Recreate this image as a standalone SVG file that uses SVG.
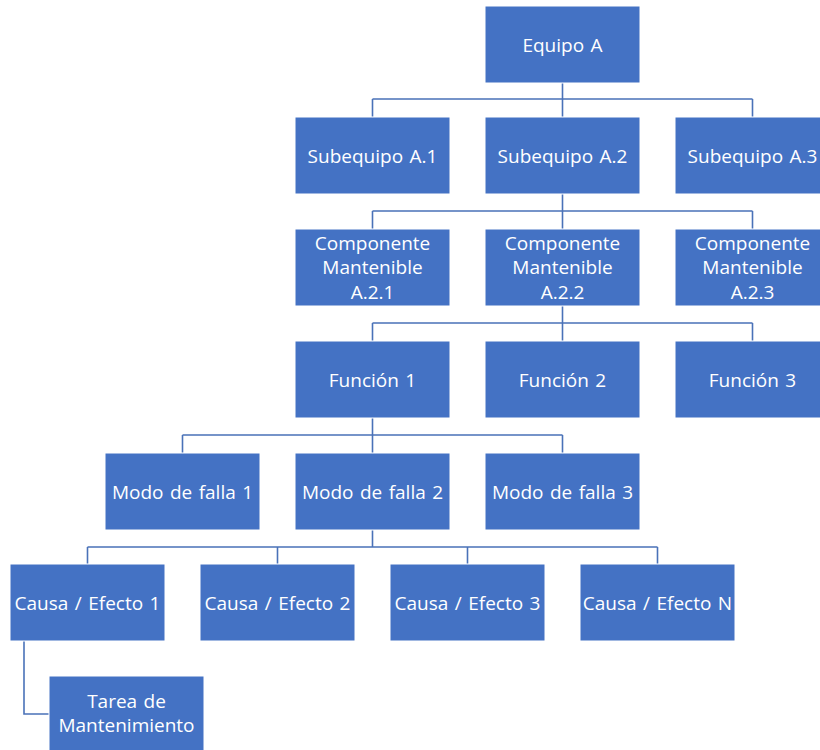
<svg xmlns="http://www.w3.org/2000/svg" width="820" height="750" viewBox="0 0 820 750">
  <style>
    .box { fill: #4472C4; stroke: #ffffff; stroke-width: 1; }
    .lbl { fill: #ffffff; font-family: "Open Sans", "Noto Sans", "Liberation Sans", sans-serif; font-size: 19px; word-spacing: 1.5px; text-anchor: middle; dominant-baseline: central; }
    .wire { fill: none; stroke: #4A72B8; stroke-width: 1.6; }
  </style>
  <rect width="820" height="750" fill="#ffffff"/>

  <!-- tree connectors -->
  <g id="connectors">
    <path class="wire" d="M562.5 83 V99 M372.5 99 H752.5 M372.5 99 V117 M562.5 99 V117 M752.5 99 V117"/>
    <path class="wire" d="M562.5 194 V211 M372.5 211 H752.5 M372.5 211 V229 M562.5 211 V229 M752.5 211 V229"/>
    <path class="wire" d="M562.5 306 V323 M372.5 323 H752.5 M372.5 323 V341 M562.5 323 V341 M752.5 323 V341"/>
    <path class="wire" d="M372.5 418 V435 M182.5 435 H562.5 M182.5 435 V453 M372.5 435 V453 M562.5 435 V453"/>
    <path class="wire" d="M372.5 530 V547 M87.5 547 H657.5 M87.5 547 V564 M277.5 547 V564 M467.5 547 V564 M657.5 547 V564"/>
    <path class="wire" d="M24 641 V714 H49"/>
  </g>

  <g id="equipo-a">
    <rect class="box" x="485" y="6" width="155" height="77"/>
    <text class="lbl" x="562.5" y="44.5">Equipo A</text>
  </g>

  <g id="subequipo-a1">
    <rect class="box" x="295" y="117" width="155" height="77"/>
    <text class="lbl" x="372.5" y="155.5">Subequipo A.1</text>
  </g>
  <g id="subequipo-a2">
    <rect class="box" x="485" y="117" width="155" height="77"/>
    <text class="lbl" x="562.5" y="155.5">Subequipo A.2</text>
  </g>
  <g id="subequipo-a3">
    <rect class="box" x="675" y="117" width="155" height="77"/>
    <text class="lbl" x="752.5" y="155.5">Subequipo A.3</text>
  </g>

  <g id="componente-a21">
    <rect class="box" x="295" y="229" width="155" height="77"/>
    <text class="lbl" x="372.5" y="243">Componente</text>
    <text class="lbl" x="372.5" y="267">Mantenible</text>
    <text class="lbl" x="372.5" y="292">A.2.1</text>
  </g>
  <g id="componente-a22">
    <rect class="box" x="485" y="229" width="155" height="77"/>
    <text class="lbl" x="562.5" y="243">Componente</text>
    <text class="lbl" x="562.5" y="267">Mantenible</text>
    <text class="lbl" x="562.5" y="292">A.2.2</text>
  </g>
  <g id="componente-a23">
    <rect class="box" x="675" y="229" width="155" height="77"/>
    <text class="lbl" x="752.5" y="243">Componente</text>
    <text class="lbl" x="752.5" y="267">Mantenible</text>
    <text class="lbl" x="752.5" y="292">A.2.3</text>
  </g>

  <g id="funcion-1">
    <rect class="box" x="295" y="341" width="155" height="77"/>
    <text class="lbl" x="372.5" y="379.5">Función 1</text>
  </g>
  <g id="funcion-2">
    <rect class="box" x="485" y="341" width="155" height="77"/>
    <text class="lbl" x="562.5" y="379.5">Función 2</text>
  </g>
  <g id="funcion-3">
    <rect class="box" x="675" y="341" width="155" height="77"/>
    <text class="lbl" x="752.5" y="379.5">Función 3</text>
  </g>

  <g id="modo-1">
    <rect class="box" x="105" y="453" width="155" height="77"/>
    <text class="lbl" x="182.5" y="491.5">Modo de falla 1</text>
  </g>
  <g id="modo-2">
    <rect class="box" x="295" y="453" width="155" height="77"/>
    <text class="lbl" x="372.5" y="491.5">Modo de falla 2</text>
  </g>
  <g id="modo-3">
    <rect class="box" x="485" y="453" width="155" height="77"/>
    <text class="lbl" x="562.5" y="491.5">Modo de falla 3</text>
  </g>

  <g id="causa-1">
    <rect class="box" x="10" y="564" width="155" height="77"/>
    <text class="lbl" x="87.5" y="602.5">Causa / Efecto 1</text>
  </g>
  <g id="causa-2">
    <rect class="box" x="200" y="564" width="155" height="77"/>
    <text class="lbl" x="277.5" y="602.5">Causa / Efecto 2</text>
  </g>
  <g id="causa-3">
    <rect class="box" x="390" y="564" width="155" height="77"/>
    <text class="lbl" x="467.5" y="602.5">Causa / Efecto 3</text>
  </g>
  <g id="causa-n">
    <rect class="box" x="580" y="564" width="155" height="77"/>
    <text class="lbl" x="657.5" y="602.5">Causa / Efecto N</text>
  </g>

  <g id="tarea">
    <rect class="box" x="49" y="676" width="155" height="80"/>
    <text class="lbl" x="126.5" y="701">Tarea de</text>
    <text class="lbl" x="126.5" y="725">Mantenimiento</text>
  </g>
</svg>
